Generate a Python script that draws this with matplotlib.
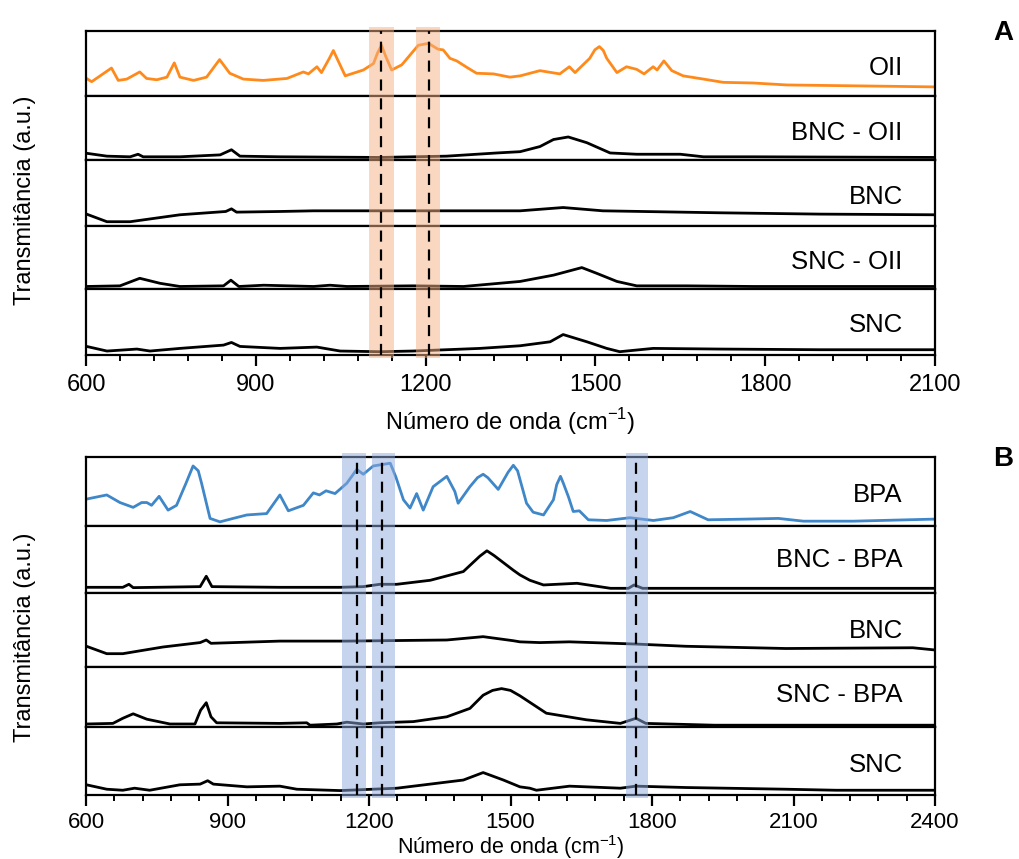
import matplotlib
matplotlib.use('Agg')
import matplotlib.pyplot as plt
from matplotlib.ticker import MultipleLocator

plt.rcParams['font.family'] = ['Liberation Sans', 'DejaVu Sans']

# ---------------- Panel A data (wavenumber, normalised transmittance per strip)
oii_x = [601, 610, 645, 657, 672, 695, 707, 725, 743, 756, 766, 790, 813, 836, 854, 878, 913, 955, 984, 993,
         1008, 1016, 1030, 1037, 1045, 1058, 1090, 1108, 1115, 1122, 1130, 1140, 1158, 1187, 1205, 1222, 1231,
         1243, 1255, 1273, 1290, 1320, 1349, 1367, 1402, 1437, 1454, 1464, 1490, 1499, 1507, 1514, 1520, 1538,
         1555, 1573, 1586, 1602, 1609, 1621, 1635, 1655, 1691, 1726, 1779, 1838, 1926, 2015, 2100]
oii_y = [0.27, 0.22, 0.43, 0.24, 0.26, 0.37, 0.27, 0.25, 0.29, 0.51, 0.29, 0.24, 0.29, 0.56, 0.35, 0.26, 0.24, 0.27,
         0.37, 0.34, 0.45, 0.36, 0.58, 0.70, 0.55, 0.31, 0.40, 0.50, 0.66, 0.78, 0.60, 0.40, 0.48, 0.78, 0.81,
         0.72, 0.71, 0.58, 0.54, 0.44, 0.35, 0.34, 0.29, 0.31, 0.39, 0.34, 0.45, 0.36, 0.58, 0.71, 0.76, 0.70,
         0.58, 0.36, 0.45, 0.41, 0.34, 0.45, 0.40, 0.54, 0.39, 0.31, 0.26, 0.21, 0.20, 0.17, 0.16, 0.15, 0.14]

bnc_oii_x = [601, 637, 678, 692, 701, 766, 837, 857, 872, 943, 1119, 1237, 1326, 1367, 1402, 1426, 1452, 1485,
             1526, 1573, 1650, 1691, 1779, 2100]
bnc_oii_y = [0.105, 0.06, 0.05, 0.09, 0.05, 0.05, 0.08, 0.16, 0.06, 0.05, 0.04, 0.06, 0.11, 0.13, 0.21, 0.32,
             0.36, 0.27, 0.11, 0.09, 0.09, 0.05, 0.05, 0.04]

bnc_a_x = [601, 637, 678, 766, 847, 857, 866, 943, 1002, 1178, 1367, 1443, 1513, 1720, 1897, 2100]
bnc_a_y = [0.18, 0.065, 0.065, 0.17, 0.22, 0.26, 0.21, 0.22, 0.23, 0.23, 0.23, 0.28, 0.23, 0.20, 0.18, 0.17]

snc_oii_x = [601, 660, 695, 731, 766, 843, 856, 870, 914, 1002, 1031, 1061, 1178, 1267, 1367, 1426, 1476, 1502,
             1538, 1573, 1661, 1779, 2100]
snc_oii_y = [0.04, 0.05, 0.17, 0.09, 0.04, 0.05, 0.14, 0.04, 0.06, 0.04, 0.06, 0.04, 0.05, 0.04, 0.12, 0.22,
             0.34, 0.25, 0.12, 0.05, 0.05, 0.04, 0.04]

snc_a_x = [601, 637, 690, 713, 766, 843, 857, 872, 943, 1008, 1049, 1119, 1178, 1296, 1367, 1420, 1443, 1485,
           1520, 1543, 1602, 1720, 1897, 2100]
snc_a_y = [0.13, 0.06, 0.09, 0.06, 0.10, 0.15, 0.19, 0.13, 0.10, 0.12, 0.06, 0.05, 0.06, 0.10, 0.14, 0.20, 0.31,
           0.20, 0.10, 0.05, 0.10, 0.09, 0.08, 0.08]

# ---------------- Panel B data
bpa_x = [601, 644, 672, 700, 718, 729, 739, 755, 774, 792, 812, 827, 838, 845, 863, 884, 912, 941, 983, 1011, 1029,
         1061, 1082, 1095, 1109, 1128, 1153, 1174, 1188, 1209, 1245, 1257, 1273, 1287, 1301, 1315, 1336, 1365,
         1382, 1389, 1414, 1430, 1442, 1452, 1474, 1495, 1506, 1515, 1534, 1548, 1570, 1591, 1598, 1606, 1612,
         1623, 1633, 1646, 1665, 1704, 1753, 1803, 1845, 1881, 1919, 2001, 2068, 2121, 2227, 2400]
bpa_y = [0.39, 0.45, 0.34, 0.27, 0.34, 0.34, 0.30, 0.43, 0.23, 0.30, 0.62, 0.87, 0.80, 0.62, 0.11, 0.06, 0.11,
         0.16, 0.18, 0.45, 0.22, 0.30, 0.48, 0.45, 0.51, 0.47, 0.62, 0.82, 0.75, 0.87, 0.91, 0.71, 0.38, 0.26,
         0.47, 0.23, 0.57, 0.72, 0.50, 0.33, 0.57, 0.70, 0.75, 0.70, 0.53, 0.78, 0.88, 0.80, 0.33, 0.20, 0.16,
         0.38, 0.60, 0.72, 0.62, 0.42, 0.21, 0.22, 0.09, 0.08, 0.12, 0.08, 0.12, 0.21, 0.09, 0.10, 0.11, 0.07,
         0.07, 0.10]

bnc_bpa_x = [601, 678, 691, 700, 842, 855, 867, 1011, 1139, 1188, 1223, 1259, 1330, 1400, 1435, 1450, 1465, 1506,
             1520, 1541, 1570, 1641, 1712, 1750, 1762, 1780, 1932, 2400]
bnc_bpa_y = [0.085, 0.085, 0.13, 0.08, 0.095, 0.25, 0.095, 0.085, 0.085, 0.095, 0.13, 0.13, 0.19, 0.32, 0.55,
             0.63, 0.56, 0.34, 0.27, 0.19, 0.12, 0.145, 0.07, 0.07, 0.12, 0.07, 0.07, 0.07]

bnc_b_x = [601, 644, 678, 763, 842, 855, 865, 1011, 1153, 1365, 1442, 1506, 1520, 1562, 1625, 1766, 1872, 2084,
           2353, 2400]
bnc_b_y = [0.28, 0.18, 0.18, 0.27, 0.33, 0.365, 0.32, 0.35, 0.35, 0.365, 0.41, 0.355, 0.34, 0.33, 0.34, 0.31,
           0.28, 0.25, 0.26, 0.23]

snc_bpa_x = [601, 657, 678, 700, 729, 778, 831, 843, 855, 865, 877, 1011, 1068, 1075, 1132, 1153, 1188, 1223,
             1294, 1365, 1414, 1442, 1462, 1481, 1500, 1520, 1576, 1661, 1733, 1766, 1787, 1932, 2400]
snc_bpa_y = [0.05, 0.06, 0.145, 0.22, 0.13, 0.05, 0.05, 0.28, 0.405, 0.17, 0.07, 0.06, 0.07, 0.03, 0.05, 0.08,
             0.05, 0.07, 0.09, 0.17, 0.31, 0.53, 0.61, 0.64, 0.61, 0.52, 0.23, 0.12, 0.06, 0.145, 0.06, 0.03, 0.03]

snc_b_x = [601, 644, 678, 703, 735, 799, 842, 858, 870, 941, 1011, 1047, 1139, 1259, 1400, 1442, 1485, 1520,
           1541, 1555, 1625, 1733, 1766, 1872, 2084, 2190, 2400]
snc_b_y = [0.15, 0.085, 0.07, 0.10, 0.07, 0.15, 0.16, 0.21, 0.16, 0.12, 0.13, 0.085, 0.065, 0.10, 0.22, 0.33,
           0.22, 0.12, 0.10, 0.07, 0.13, 0.10, 0.13, 0.11, 0.085, 0.07, 0.07]

labels_a = ['OII', 'BNC - OII', 'BNC', 'SNC - OII', 'SNC']
labels_b = ['BPA', 'BNC - BPA', 'BNC', 'SNC - BPA', 'SNC']

bands_a = [(1100, 1145), (1183, 1225)]
dashes_a = [1121, 1206]
bands_b = [(1143, 1194), (1206, 1256), (1745, 1792)]
dashes_b = [1174, 1228, 1766]

ORANGE = '#ff8a1c'
BLUE = '#3f87c8'

W, H = 1020, 859
fig = plt.figure(figsize=(W / 100, H / 100), dpi=100)

L_PX, R_PX = 86, 935
edges_a = [31, 96, 160, 226, 289, 355]
edges_b = [457, 526, 593, 667, 727, 795]
label_yfrac_a = [0.43, 0.42, 0.44, 0.43, 0.45]
label_yfrac_b = [0.45, 0.49, 0.49, 0.53, 0.44]


def rect(top, bot):
    return [L_PX / W, 1 - bot / H, (R_PX - L_PX) / W, (bot - top) / H]


def panel(edges, series, labels, lfrac, colors, xlim, bands, dashes, bandcolor, letter,
          xlabel_top_px, ylabel_center_px, tick_fs, tick_pad, xlabel_fs):
    axes = []
    for i in range(5):
        ax = fig.add_axes(rect(edges[i], edges[i + 1]))
        xs, ys = series[i]
        ax.plot(xs, ys, color=colors[i], lw=2.0, solid_joinstyle='round')
        ax.set_xlim(*xlim)
        ax.set_ylim(0, 1)
        for s in ax.spines.values():
            s.set_linewidth(1.6)
            s.set_color('black')
        ax.tick_params(left=False, labelleft=False)
        ax.text(0.962, lfrac[i], labels[i], transform=ax.transAxes, ha='right', va='center',
                fontsize=18.5)
        if i < 4:
            ax.tick_params(bottom=False, labelbottom=False)
        else:
            ax.xaxis.set_major_locator(MultipleLocator(300))
            ax.xaxis.set_minor_locator(MultipleLocator(60))
            ax.tick_params(axis='x', which='major', direction='out', length=8, width=1.6,
                           labelsize=tick_fs, pad=tick_pad)
            ax.tick_params(axis='x', which='minor', direction='out', length=4, width=1.4)
            ax.set_xlabel('Número de onda (cm$^{\\mathregular{-1}}$)', fontsize=xlabel_fs)
            h = edges[5] - edges[4]
            ax.xaxis.set_label_coords(0.5, (edges[5] - xlabel_top_px) / h)
        axes.append(ax)
    ov = fig.add_axes(rect(edges[0], edges[-1]))
    ov.set_xlim(*xlim)
    ov.set_ylim(0, 1)
    ov.patch.set_alpha(0)
    ov.axis('off')
    for (a, b) in bands:
        ov.axvspan(a, b, ymin=-0.01, ymax=1.012, color=bandcolor, alpha=0.5, lw=0, clip_on=False)
    for d in dashes:
        ov.axvline(d, ymin=0, ymax=1, color='black', lw=1.6, ls=(0, (5, 3.5)))
    fig.text(25 / W, 1 - ylabel_center_px / H, 'Transmitância (a.u.)', rotation=90,
             ha='center', va='center', fontsize=17)
    fig.text(1003 / W, 1 - (edges[0] + 2) / H, letter, ha='center', va='center', fontsize=20,
             fontweight='bold')
    return axes


panel(edges_a,
      [(oii_x, oii_y), (bnc_oii_x, bnc_oii_y), (bnc_a_x, bnc_a_y), (snc_oii_x, snc_oii_y), (snc_a_x, snc_a_y)],
      labels_a, label_yfrac_a, [ORANGE, 'black', 'black', 'black', 'black'], (600, 2100),
      bands_a, dashes_a, '#f4b183', 'A', 406, 200, 17, 6, 17)
panel(edges_b,
      [(bpa_x, bpa_y), (bnc_bpa_x, bnc_bpa_y), (bnc_b_x, bnc_b_y), (snc_bpa_x, snc_bpa_y), (snc_b_x, snc_b_y)],
      labels_b, label_yfrac_b, [BLUE, 'black', 'black', 'black', 'black'], (600, 2400),
      bands_b, dashes_b, '#8faadc', 'B', 833, 637, 16, 4, 15.5)

fig.savefig('out.png', dpi=100)
